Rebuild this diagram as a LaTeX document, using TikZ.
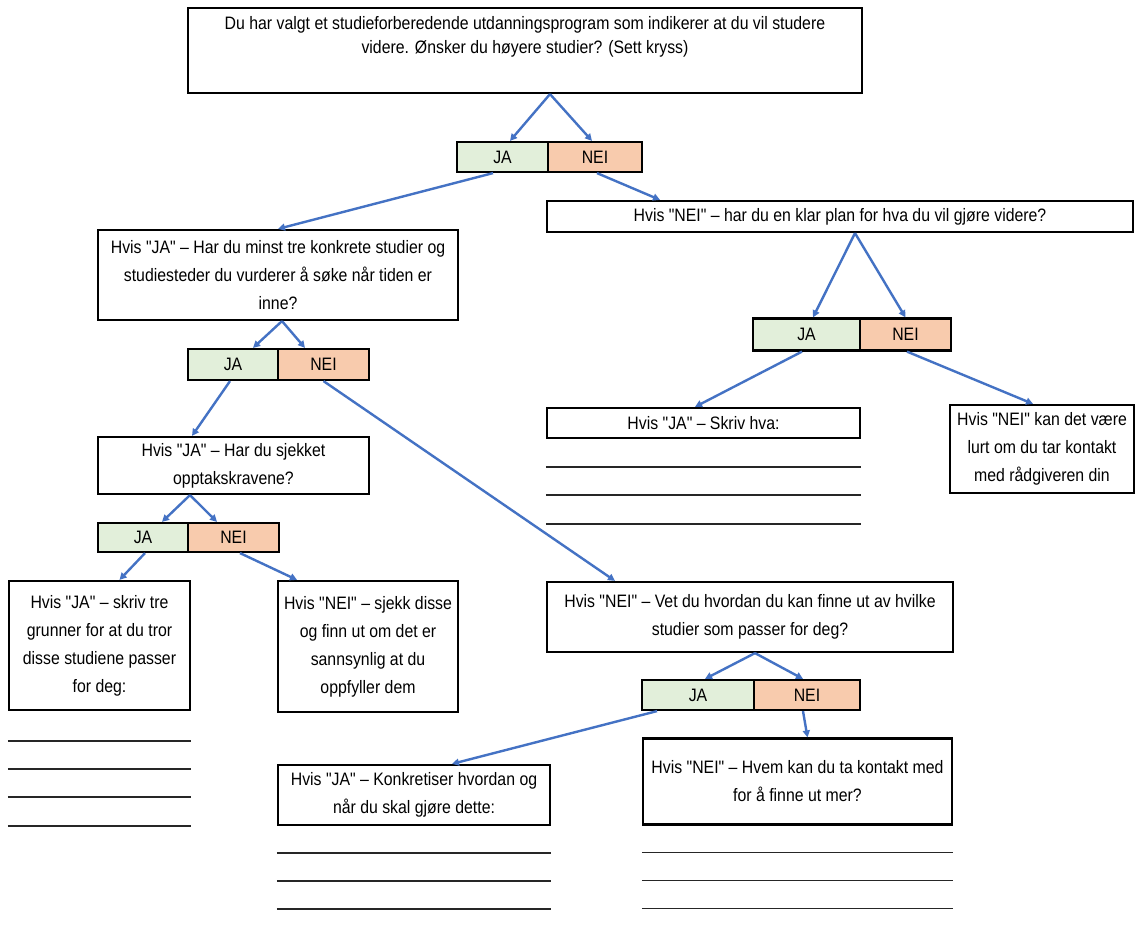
\documentclass[tikz,border=0pt]{standalone}
\usepackage{fontspec}
\setmainfont{Liberation Sans}[FakeStretch=0.88,Ligatures=TeXOff]
\usetikzlibrary{arrows.meta,calc}
\definecolor{arrblue}{HTML}{4472C4}
\definecolor{jagreen}{HTML}{E2EFDA}
\definecolor{neiorange}{HTML}{F8CBAD}
\begin{document}
\begin{tikzpicture}[x=1pt,y=-1pt,
  box/.style={draw=black,line width=2.2pt,fill=white,align=center,inner sep=0pt,font=\fontsize{18}{28}\selectfont},
  jabox/.style={box,fill=jagreen},
  neibox/.style={box,fill=neiorange},
  arr/.style={draw=arrblue,line width=2.4pt,-{Triangle[length=7pt,width=7pt]}},
  wline/.style={draw=black!85,line width=1.3pt}]
\useasboundingbox[fill=white] (0,0) rectangle (1136,931);

% boxes
\node[box,minimum width=674pt,minimum height=85pt] (top) at (525,50.5) {};
\node[align=center,font=\fontsize{18}{24.5}\selectfont] (toptext) at (525,37) {Du har valgt et studieforberedende utdanningsprogram som indikerer at du vil studere\\videre. Ønsker du høyere studier? (Sett kryss)};
\node[box,minimum width=586pt,minimum height=31pt] (qn) at (840,216.5) {Hvis "NEI" – har du en klar plan for hva du vil gjøre videre?};
\node[box,minimum width=360pt,minimum height=90pt] (q2) at (278,275) {Hvis "JA" – Har du minst tre konkrete studier og\\studiesteder du vurderer å søke når tiden er\\inne?};
\node[box,minimum width=313pt,minimum height=30pt] (skriv) at (703.5,423) {Hvis "JA" – Skriv hva:};
\node[box,minimum width=184pt,minimum height=88pt] (lurt) at (1042,449) {Hvis "NEI" kan det være\\lurt om du tar kontakt\\med rådgiveren din};
\node[box,minimum width=271pt,minimum height=57pt] (q3) at (233.5,465.5) {Hvis "JA" – Har du sjekket\\opptakskravene?};
\node[box,minimum width=181pt,minimum height=129pt] (grunner) at (99.5,645.5) {Hvis "JA" – skriv tre\\grunner for at du tror\\disse studiene passer\\for deg:};
\node[box,minimum width=180pt,minimum height=131pt] (sjekk) at (368,646.5) {Hvis "NEI" – sjekk disse\\og finn ut om det er\\sannsynlig at du\\oppfyller dem};
\node[box,minimum width=406pt,minimum height=70pt] (vet) at (750,617) {Hvis "NEI" – Vet du hvordan du kan finne ut av hvilke\\studier som passer for deg?};
\node[box,minimum width=272pt,minimum height=60pt] (konk) at (414,795) {Hvis "JA" – Konkretiser hvordan og\\når du skal gjøre dette:};
\node[box,minimum width=309pt,minimum height=86pt] (hvem) at (797.5,781.5) {Hvis "NEI" – Hvem kan du ta kontakt med\\for å finne ut mer?};

% JA / NEI pairs
\node[jabox,minimum width=91pt,minimum height=30pt] (ja1) at (502.5,157) {JA};
\node[neibox,minimum width=94pt,minimum height=30pt] (nei1) at (595,157) {NEI};
\node[jabox,minimum width=107pt,minimum height=32pt] (ja2) at (806.5,334.5) {JA};
\node[neibox,minimum width=91pt,minimum height=32pt] (nei2) at (905.5,334.5) {NEI};
\node[jabox,minimum width=90pt,minimum height=31pt] (ja3) at (233,364.5) {JA};
\node[neibox,minimum width=91pt,minimum height=31pt] (nei3) at (323.5,364.5) {NEI};
\node[jabox,minimum width=90pt,minimum height=29pt] (ja4) at (143,537.5) {JA};
\node[neibox,minimum width=91pt,minimum height=29pt] (nei4) at (233.5,537.5) {NEI};
\node[jabox,minimum width=112pt,minimum height=30pt] (ja5) at (698,695) {JA};
\node[neibox,minimum width=106pt,minimum height=30pt] (nei5) at (807,695) {NEI};

% writing lines
\foreach \d in {30,58,86,115} \draw[wline] ([yshift=-\d pt]grunner.south west) -- ([yshift=-\d pt]grunner.south east);
\foreach \d in {28,56,85} \draw[wline] ([yshift=-\d pt]skriv.south west) -- ([yshift=-\d pt]skriv.south east);
\foreach \d in {27,55,83} \draw[wline] ([yshift=-\d pt]konk.south west) -- ([yshift=-\d pt]konk.south east);
\foreach \d in {27,55,83} \draw[wline] ([yshift=-\d pt]hvem.south west) -- ([yshift=-\d pt]hvem.south east);

% arrows
\draw[arr] ([xshift=25pt]top.south) -- ([xshift=7.5pt]ja1.north);
\draw[arr] ([xshift=25pt]top.south) -- ([xshift=-3pt]nei1.north);
\draw[arr] ([xshift=-9.5pt]ja1.south) -- (q2.north);
\draw[arr] ([xshift=2pt]nei1.south) -- ([xshift=-180pt]qn.north);
\draw[arr] ([xshift=15pt]qn.south) -- ([xshift=6.5pt]ja2.north);
\draw[arr] ([xshift=15pt]qn.south) -- (nei2.north);
\draw[arr] ([xshift=-4.5pt]ja2.south) -- ([xshift=-8.5pt]skriv.north);
\draw[arr] ([xshift=1.5pt]nei2.south) -- ([xshift=-9pt]lurt.north);
\draw[arr] ([xshift=4pt]q2.south) -- ([xshift=20pt]ja3.north);
\draw[arr] ([xshift=4pt]q2.south) -- ([xshift=-18.5pt]nei3.north);
\draw[arr] ([xshift=-3pt]ja3.south) -- ([xshift=-41.5pt]q3.north);
\draw[arr] (nei3.south) -- ([xshift=-135pt]vet.north);
\draw[arr] ([xshift=-43.5pt]q3.south) -- ([xshift=19pt]ja4.north);
\draw[arr] ([xshift=-43.5pt]q3.south) -- ([xshift=-16.5pt]nei4.north);
\draw[arr] ([xshift=2pt]ja4.south) -- ([xshift=20pt]grunner.north);
\draw[arr] ([xshift=6.5pt]nei4.south) -- ([xshift=-71pt]sjekk.north);
\draw[arr] ([xshift=5pt]vet.south) -- ([xshift=7pt]ja5.north);
\draw[arr] ([xshift=5pt]vet.south) -- ([xshift=-4pt]nei5.north);
\draw[arr] ([xshift=-41pt]ja5.south) -- ([xshift=38pt]konk.north);
\draw[arr] ([xshift=-4pt]nei5.south) -- ([xshift=10pt]hvem.north);
\end{tikzpicture}
\end{document}
